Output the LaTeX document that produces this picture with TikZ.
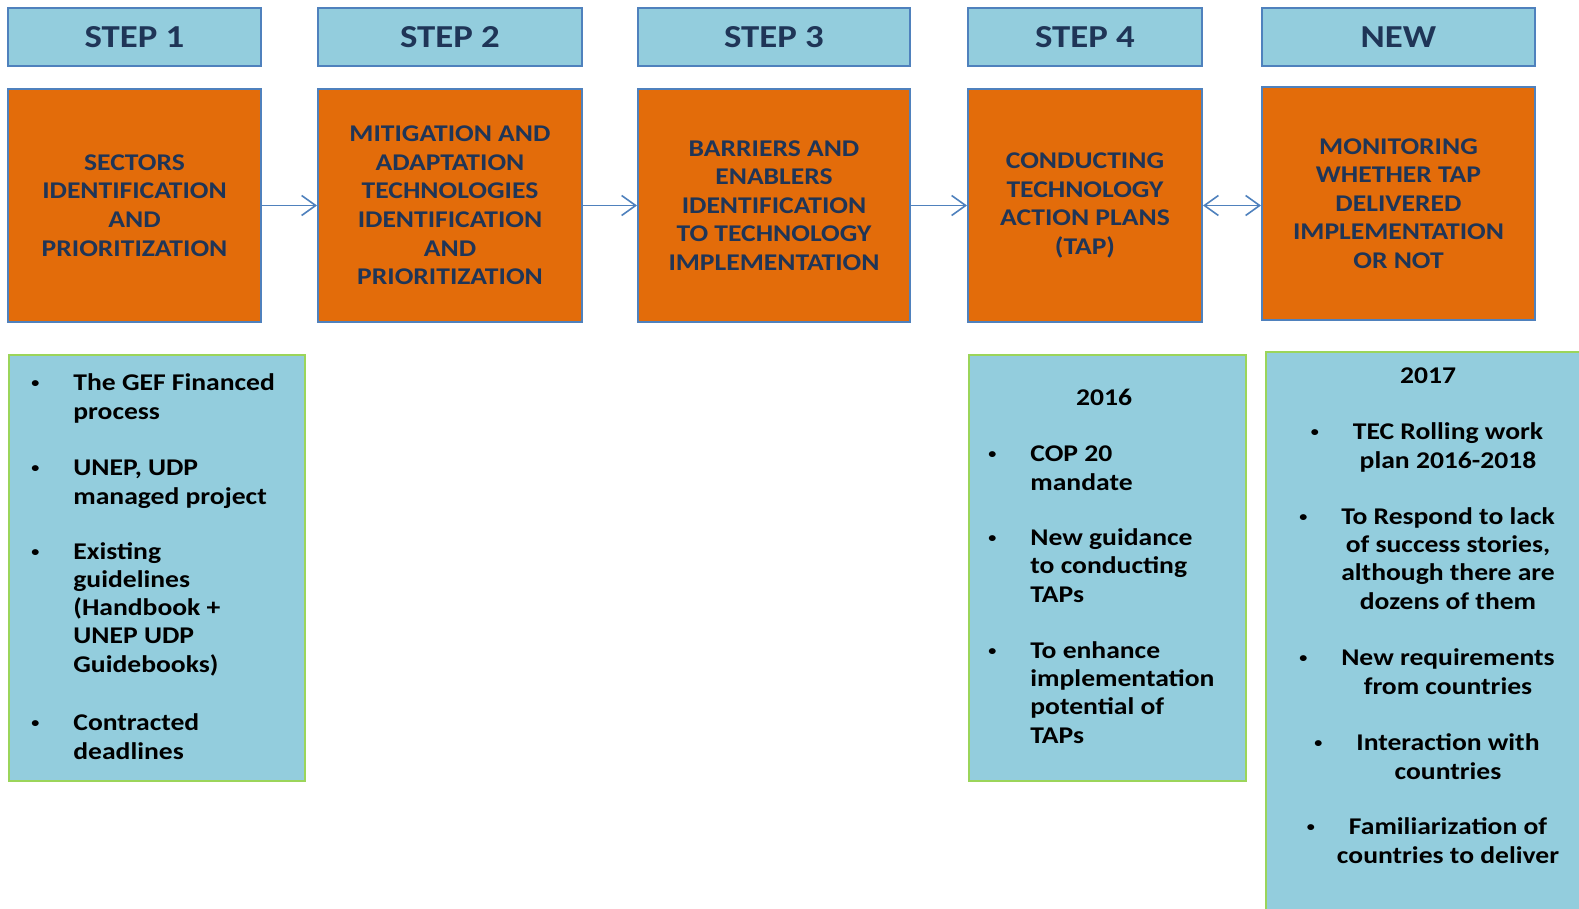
\documentclass[tikz,border=0pt]{standalone}
\usepackage{fontspec}
\setmainfont{Carlito}[FakeStretch=1.15]
\usetikzlibrary{arrows.meta}
\definecolor{hdrblue}{HTML}{93CDDD}
\definecolor{edgeblue}{HTML}{4F81BD}
\definecolor{steporange}{HTML}{E36C0A}
\definecolor{navy}{HTML}{1F3557}
\definecolor{notegreen}{HTML}{9BD55A}
\newcommand{\bul}{\llap{{\fontsize{7}{7}\selectfont\raisebox{1.6pt}{\textbullet}}\hspace{17pt}}}

\begin{document}
\begin{tikzpicture}[x=0.5pt,y=-0.5pt,
    hdr/.style={draw=edgeblue,fill=hdrblue,line width=1pt,minimum height=29pt,
        text=navy,font=\fontsize{16}{19}\selectfont\bfseries},
    stepbox/.style={draw=edgeblue,fill=steporange,line width=1pt,minimum height=116.5pt,
        text=navy,align=center,font=\fontsize{12}{14.3}\selectfont\bfseries},
    notebox/.style={draw=notegreen,fill=hdrblue,line width=1pt,anchor=north west},
    itm/.style={anchor=base west,align=left,inner sep=0pt,
        font=\fontsize{12}{14.1}\selectfont\bfseries},
    citm/.style={itm,anchor=base,align=center},
    link/.style={edgeblue,line width=0.8pt,-{Straight Barb[length=7pt,width=10pt]}}]
\useasboundingbox (0,0) rectangle (1579,909);
\clip (0,0) rectangle (1579,909);

% headers
\node[hdr,minimum width=126.5pt] (hd1) at (134.5,37) {STEP 1};
\node[hdr,minimum width=132pt] (hd2) at (450,37) {STEP 2};
\node[hdr,minimum width=136pt] (hd3) at (774,37) {STEP 3};
\node[hdr,minimum width=117pt] (hd4) at (1085,37) {STEP 4};
\node[hdr,minimum width=136.5pt] (hd5) at (1398.5,37) {NEW};

% steps
\node[stepbox,minimum width=126.5pt] (st1) at (134.5,205.5)
    {SECTORS\\IDENTIFICATION\\AND\\PRIORITIZATION};
\node[stepbox,minimum width=132pt] (st2) at (450,205.5)
    {MITIGATION AND\\ADAPTATION\\TECHNOLOGIES\\IDENTIFICATION\\AND\\PRIORITIZATION};
\node[stepbox,minimum width=136pt] (st3) at (774,205.5)
    {BARRIERS AND\\ENABLERS\\IDENTIFICATION\\TO TECHNOLOGY\\IMPLEMENTATION};
\node[stepbox,minimum width=117pt] (st4) at (1085,205.5)
    {CONDUCTING\\TECHNOLOGY\\ACTION PLANS\\(TAP)};
\node[stepbox,minimum width=136.5pt] (st5) at (1398.5,203.5)
    {MONITORING\\WHETHER TAP\\DELIVERED\\IMPLEMENTATION\\OR NOT};

\draw[link] (st1) -- (st2);
\draw[link] (st2) -- (st3);
\draw[link] (st3) -- (st4);
\draw[link,{Straight Barb[length=7pt,width=10pt]}-{Straight Barb[length=7pt,width=10pt]}]
    (st4.east) -- (st5.west |- st4.east);

% notes
\node[notebox,minimum width=148pt,minimum height=213pt] (nt1) at (8,354) {};
\node[notebox,minimum width=138.5pt,minimum height=213pt] (nt4) at (968,354) {};
\node[notebox,minimum width=170pt,minimum height=300pt] (nt5) at (1265,351) {};

% base anchor sits on the last line
\node[itm] (a1) at (73,419) {\bul The GEF Financed\\process};
\node[itm] (a2) at (73,504) {\bul UNEP, UDP\\managed project};
\node[itm] (a3) at (73,672) {\bul Existing\\guidelines\\(Handbook +\\UNEP UDP\\Guidebooks)};
\node[itm] (a4) at (73,759) {\bul Contracted\\deadlines};

\node[citm] (y16) at (1104,405) {2016};
\node[itm] (b1) at (1030,490) {\bul COP 20\\mandate};
\node[itm] (b2) at (1030,602) {\bul New guidance\\to conducting\\TAPs};
\node[itm] (b3) at (1030,743) {\bul To enhance\\implementation\\potential of\\TAPs};

\node[citm] (y17) at (1428,383) {2017};
\node[citm] (c1) at (1448,468) {\bul TEC Rolling work\\plan 2016-2018};
\node[citm] (c2) at (1448,609) {\bul To Respond to lack\\of success stories,\\although there are\\dozens of them};
\node[citm] (c3) at (1448,694) {\bul New requirements\\from countries};
\node[citm] (c4) at (1448,779) {\bul Interaction with\\countries};
\node[citm] (c5) at (1448,863) {\bul Familiarization of\\countries to deliver};
\end{tikzpicture}
\end{document}
